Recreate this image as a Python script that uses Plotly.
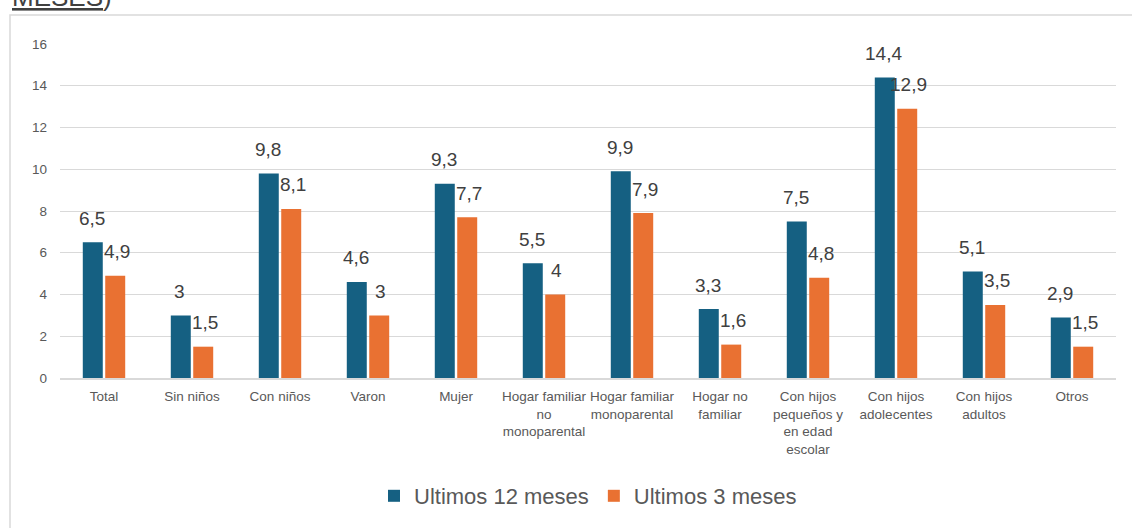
import plotly.graph_objects as go

categories = ["Total", "Sin niños", "Con niños", "Varon", "Mujer",
              "Hogar familiar<br>no<br>monoparental", "Hogar familiar<br>monoparental",
              "Hogar no<br>familiar", "Con hijos<br>pequeños y<br>en edad<br>escolar",
              "Con hijos<br>adolecentes", "Con hijos<br>adultos", "Otros"]
ultimos_12 = [6.5, 3, 9.8, 4.6, 9.3, 5.5, 9.9, 3.3, 7.5, 14.4, 5.1, 2.9]
ultimos_3 = [4.9, 1.5, 8.1, 3, 7.7, 4, 7.9, 1.6, 4.8, 12.9, 3.5, 1.5]
series_names = ["Ultimos 12 meses", "Ultimos 3 meses"]
y_ticks = [0, 2, 4, 6, 8, 10, 12, 14, 16]

BLUE = "#156082"
ORANGE = "#E97132"
FONT = "Liberation Sans"

def fmt(v):
    s = ("%g" % v)
    return s.replace(".", ",")

W, H = 1132, 528
ml, mr, mt, mb = 60, 16, 44, 149
pw = W - ml - mr
ph = H - mt - mb

fig = go.Figure()
fig.add_trace(go.Bar(x=categories, y=ultimos_12, name=series_names[0],
                     marker=dict(color=BLUE, line=dict(width=0))))
fig.add_trace(go.Bar(x=categories, y=ultimos_3, name=series_names[1],
                     marker=dict(color=ORANGE, line=dict(width=0))))

annotations = []
for c, v in zip(categories, ultimos_12):
    annotations.append(dict(x=c, y=v, xref="x", yref="y", text=fmt(v), showarrow=False,
                            xshift=-12.5, yshift=24, yanchor="middle",
                            font=dict(family=FONT, size=19, color="#404040")))
for c, v in zip(categories, ultimos_3):
    annotations.append(dict(x=c, y=v, xref="x", yref="y", text=fmt(v), showarrow=False,
                            xshift=12.5, yshift=24, yanchor="middle",
                            font=dict(family=FONT, size=19, color="#404040")))

# cut-off title at top
annotations.append(dict(x=(10 - ml) / pw, y=(H - mb - 14) / ph, xref="paper", yref="paper",
                        xanchor="left", yanchor="bottom", showarrow=False,
                        text="<u>MESES</u>)", font=dict(family=FONT, size=26, color="#404040")))

fig.update_layout(
    width=W, height=H,
    margin=dict(l=ml, r=mr, t=mt, b=mb),
    paper_bgcolor="white", plot_bgcolor="white",
    barmode="group", bargap=0.49, bargroupgap=0.11,
    font=dict(family=FONT, color="#595959"),
    showlegend=True,
    legend=dict(orientation="h", x=0.5, xanchor="center", y=(H - mb - 496) / ph, yanchor="middle",
                font=dict(family=FONT, size=22, color="#595959"), itemwidth=30,
                traceorder="normal"),
    annotations=annotations,
    shapes=[dict(type="rect", xref="paper", yref="paper",
                 x0=(10 - ml) / pw, x1=1.5, y0=-1.0, y1=(H - mb - 15) / ph,
                 line=dict(color="#D9D9D9", width=1.5), fillcolor="rgba(0,0,0,0)", layer="below")],
)
fig.update_xaxes(tickfont=dict(family=FONT, size=13.5, color="#595959"), showgrid=False,
                 showline=True, linecolor="#D9D9D9", linewidth=1.5, ticks="", ticklabelstandoff=5)
fig.update_yaxes(range=[0, 16], tickvals=y_ticks, tickfont=dict(family=FONT, size=13.5, color="#595959"),
                 showgrid=True, gridcolor="#D9D9D9", gridwidth=1, zeroline=False,
                 showline=False, ticks="", ticklabelstandoff=12)

fig.write_html("out.html", config={"displayModeBar": False},
               post_script="document.body.style.margin='0';document.body.style.overflow='hidden';")
